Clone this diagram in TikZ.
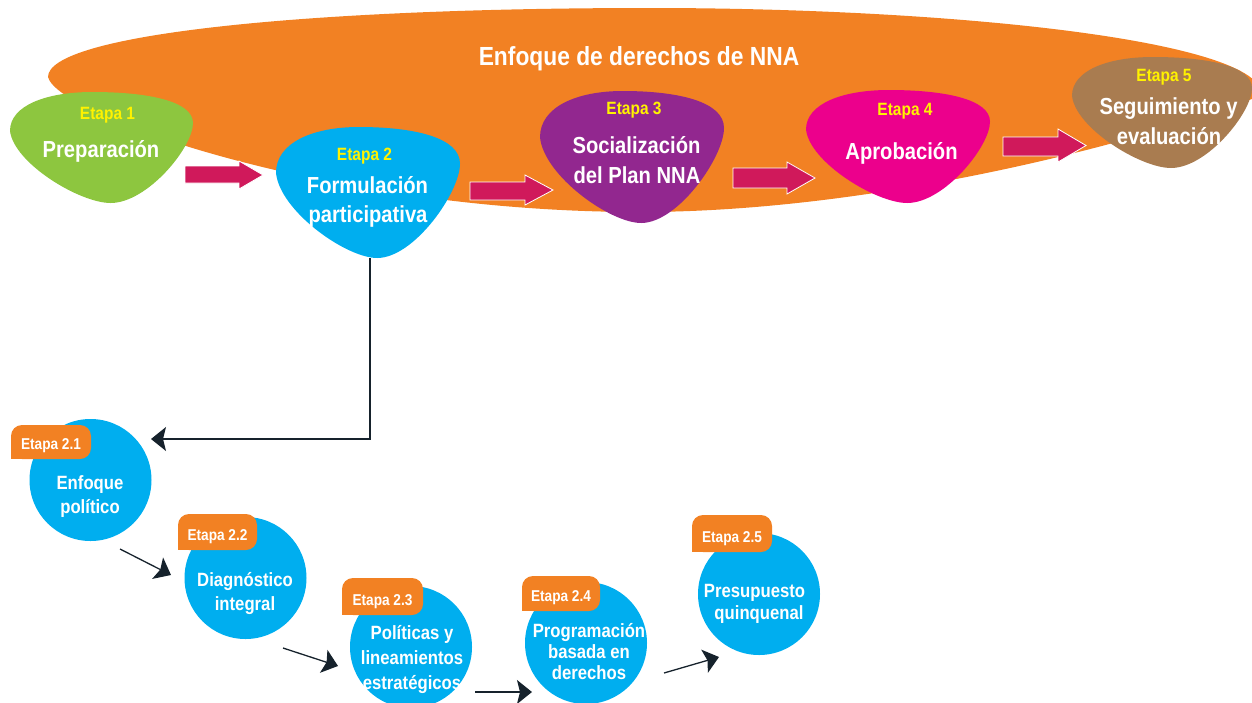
\documentclass[tikz,border=0pt]{standalone}
\usepackage{fontspec}
\setmainfont{Liberation Sans}[FakeStretch=0.87]
\usetikzlibrary{arrows.meta}
\definecolor{orng}{HTML}{F28123}
\definecolor{grn}{HTML}{8DC63F}
\definecolor{cblue}{HTML}{00AEEF}
\definecolor{purp}{HTML}{92278F}
\definecolor{mag}{HTML}{EC008C}
\definecolor{brwn}{HTML}{A97C50}
\definecolor{ylw}{HTML}{FFF200}
\definecolor{pinkarr}{HTML}{D0195B}
\definecolor{ink}{HTML}{16222C}
\newcommand\fsz[1]{\fontsize{#1}{#1}\selectfont\bfseries}
% blob: name, colour, x0, y0, w, h
\newcommand\blob[6]{%
 \fill[#2] ({#3},{#4+0.35*#6}) .. controls ({#3},{#4+0.12*#6}) and ({#3+0.2*#5},{#4}) .. ({#3+0.45*#5},{#4})
  .. controls ({#3+0.75*#5},{#4}) and ({#3+#5},{#4+0.08*#6}) .. ({#3+#5},{#4+0.28*#6})
  .. controls ({#3+#5},{#4+0.5*#6}) and ({#3+0.75*#5},{#4+#6}) .. ({#3+0.55*#5},{#4+#6})
  .. controls ({#3+0.38*#5},{#4+#6}) and ({#3+0.02*#5},{#4+0.64*#6}) .. ({#3},{#4+0.35*#6}) -- cycle;
 \coordinate (#1) at ({#3+0.5*#5},{#4+0.5*#6});}
% pink block arrow: x0, x1, xtip, body y0, body y1, head y0, head y1
\newcommand\pinkarrow[7]{%
 \fill[pinkarr, draw=white, line width=0.8pt] (#1,#4) -- (#2,#4) -- (#2,#6) -- (#3,{(#6+#7)/2}) -- (#2,#7) -- (#2,#5) -- (#1,#5) -- cycle;}
% tag: name, x0, y0, x1, y1, text
\newcommand\tagbox[6]{%
 \fill[orng, rounded corners=11pt] (#2,#5) -- (#2,#3) -- (#4,#3) -- (#4,#5) -- cycle;
 \fill[orng] (#2,#5) rectangle ({#2+14},{#5-14});
 \node[tagtxt] (#1) at ({(#2+#4)/2},{#5-9.5}) {#6};}
\newcommand\lbl[5]{\node[#2] (#1) at (#3,#4) {#5};}
\tikzset{
 every node/.style={inner sep=0pt, anchor=base},
 ttl/.style={text=white, font=\fsz{26.2}},
 etp/.style={text=ylw, font=\fsz{17.8}},
 big/.style={text=white, font=\fsz{23.2}},
 ctx/.style={text=white, font=\fsz{19.2}},
 tagtxt/.style={text=white, font=\fsz{15.7}, anchor=base},
 circ/.style={circle, fill=cblue, minimum size=122pt, inner sep=0pt, anchor=center},
 blk/.style={draw=ink, line width=1.3pt, -{Stealth[length=15pt,width=24pt,inset=3pt]}}
}
\begin{document}
\begin{tikzpicture}[x=1pt, y=-1pt]
\useasboundingbox (0,0) rectangle (1252,702);
% big orange ellipse
\fill[orng] (48,77) .. controls (58,116) and (330,212) .. (640,212)
  .. controls (880,212) and (1150,140) .. (1262,95)
  .. controls (1262,40) and (950,8) .. (650,8)
  .. controls (300,8) and (48,35) .. (48,77) -- cycle;
\lbl{title}{ttl}{639}{65}{Enfoque de derechos de NNA}
% blobs
\blob{s1}{grn}{10}{92}{183}{111}
\blob{s2}{cblue}{276}{127}{184}{131}
\blob{s3}{purp}{540}{91}{184}{132}
\blob{s4}{mag}{806}{90}{184}{113}
\blob{s5}{brwn}{1072}{57}{180}{111}
% pink arrows
\pinkarrow{185}{239}{263}{166}{183}{161}{189}
\pinkarrow{470}{525}{553}{182}{200}{175}{205}
\pinkarrow{733}{787}{815}{168}{188}{162}{194}
\pinkarrow{1003}{1058}{1086}{137}{156}{129}{162}
% blob texts
\lbl{e1}{etp}{107.5}{119}{Etapa 1}
\lbl{l1}{big}{101}{157.5}{Preparación}
\lbl{e2}{etp}{364.5}{160}{Etapa 2}
\lbl{l2a}{big}{367.5}{193}{Formulación}
\lbl{l2b}{big}{368}{222}{participativa}
\lbl{e3}{etp}{634}{114}{Etapa 3}
\lbl{l3a}{big}{636.5}{153}{Socialización}
\lbl{l3b}{big}{637}{183}{del Plan NNA}
\lbl{e4}{etp}{905}{115}{Etapa 4}
\lbl{l4}{big}{901.5}{159}{Aprobación}
\lbl{e5}{etp}{1164}{81}{Etapa 5}
\lbl{l5a}{big}{1168.5}{114}{Seguimiento y}
\lbl{l5b}{big}{1169}{144}{evaluación}
% circles
\node[circ] (c1) at (90.5,480) {};
\node[circ] (c2) at (245.5,578) {};
\node[circ] (c3) at (411,647) {};
\node[circ] (c4) at (586,643) {};
\node[circ] (c5) at (759,594) {};
\tagbox{t1}{11}{425}{91}{459}{Etapa 2.1}
\tagbox{t2}{178}{514}{257}{550}{Etapa 2.2}
\tagbox{t3}{342}{578}{423}{615}{Etapa 2.3}
\tagbox{t4}{522}{576}{600}{611}{Etapa 2.4}
\tagbox{t5}{692}{515}{772}{552}{Etapa 2.5}
\lbl{c1a}{ctx}{90}{489}{Enfoque}
\lbl{c1b}{ctx}{90}{513}{político}
\lbl{c2a}{ctx}{245}{586}{Diagnóstico}
\lbl{c2b}{ctx}{245}{610}{integral}
\lbl{c3a}{ctx}{412}{639.5}{Políticas y}
\lbl{c3b}{ctx}{412}{664.5}{lineamientos}
\lbl{c3c}{ctx}{412}{689}{estratégicos}
\lbl{c4a}{ctx}{589}{637}{Programación}
\lbl{c4b}{ctx}{589}{658}{basada en}
\lbl{c4c}{ctx}{589}{679}{derechos}
\lbl{c5a}{ctx}{754.5}{597.5}{Presupuesto}
\lbl{c5b}{ctx}{759}{619}{quinquenal}
% connectors
\coordinate (s2bot) at (370,258);
\coordinate (a0e) at (151,439);
\coordinate (a1s) at (120,549);
\coordinate (a1e) at (171,575);
\coordinate (a2s) at (283,648);
\coordinate (a2e) at (338,666);
\coordinate (a3s) at (475,692);
\coordinate (a3e) at (532,692);
\coordinate (a4s) at (664,673);
\coordinate (a4e) at (719,657);
\draw[blk] (s2bot) |- (a0e);
\draw[blk] (a1s) -- (a1e);
\draw[blk] (a2s) -- (a2e);
\draw[blk] (a3s) -- (a3e);
\draw[blk] (a4s) -- (a4e);
\end{tikzpicture}
\end{document}
